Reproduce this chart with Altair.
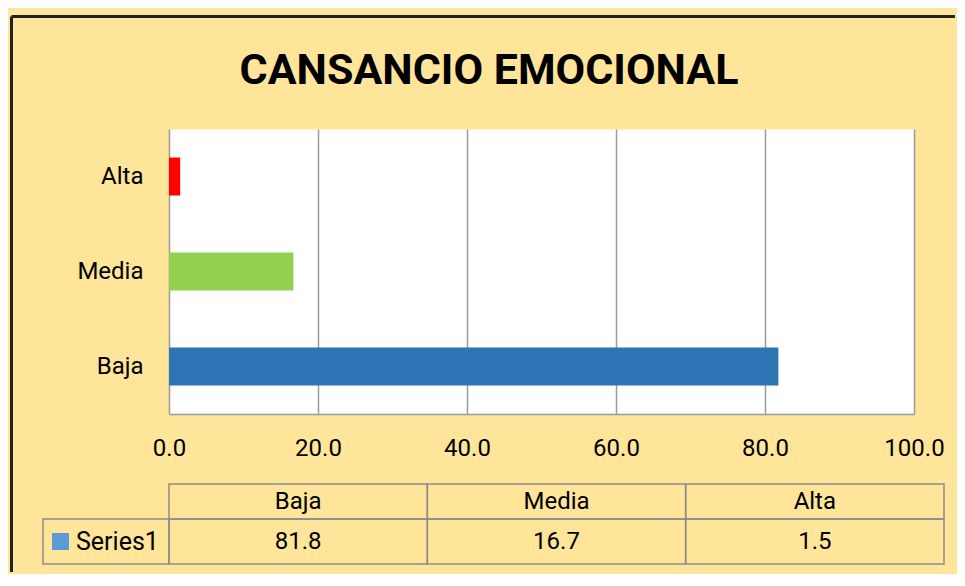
import altair as alt
import pandas as pd

# ---- data ----
categories = ["Baja", "Media", "Alta"]
values = [81.8, 16.7, 1.5]
bar_colors = ["#2E75B6", "#92D050", "#FF0000"]
series_name = "Series1"
x_ticks = [0, 20, 40, 60, 80, 100]
title_text = "CANSANCIO EMOCIONAL"

FONT = "Roboto"
GRID = "#9A9A9A"
CELL = "#8C8C8C"
BG = "#FFE599"

df = pd.DataFrame({
    "cat": categories,
    "val": values,
    "label": [f"{v:.1f}" for v in values],
})

# ---------------- top: bar chart ----------------
bars = alt.Chart(df).mark_bar().encode(
    x=alt.X("val:Q",
            scale=alt.Scale(domain=[0, 100], nice=False, zero=True),
            axis=alt.Axis(values=x_ticks, format=".1f", title=None,
                          grid=True, gridColor=GRID, gridWidth=1.5,
                          domain=True, domainColor=GRID, domainWidth=1.5,
                          ticks=False, labelPadding=34, labelBaseline="middle",
                          labelFontSize=24, labelFont=FONT, labelColor="black",
                          labelFlush=False)),
    y=alt.Y("cat:N", sort=["Alta", "Media", "Baja"],
            scale=alt.Scale(paddingInner=0.6, paddingOuter=0.3),
            axis=alt.Axis(title=None, domain=False, ticks=False, labelPadding=26,
                          labelFontSize=24, labelFont=FONT, labelColor="black")),
    color=alt.Color("cat:N", scale=alt.Scale(domain=categories, range=bar_colors),
                    legend=None),
)

title_mark = alt.Chart(pd.DataFrame({"t": [title_text]})).mark_text(
    font=FONT, fontSize=43, fontWeight="bold", color="black",
    align="center", baseline="alphabetic",
).encode(text="t:N", x=alt.value(320), y=alt.value(-45))

one = pd.DataFrame({"a": [0]})
border_v = alt.Chart(one).mark_rule(color="#222222", strokeWidth=3).encode(
    x=alt.value(-157.5), y=alt.value(-112.5), y2=alt.value(443))
border_h = alt.Chart(one).mark_rule(color="#222222", strokeWidth=3).encode(
    x=alt.value(-157.5), x2=alt.value(786), y=alt.value(-112.5))

top = alt.layer(bars, title_mark, border_v, border_h).properties(
    width=745, height=285,
    view=alt.ViewBackground(fill="white", stroke="transparent"),
)

# ---------------- bottom: data table ----------------
xcol = alt.X("cat:N", sort=categories,
             scale=alt.Scale(paddingInner=0, paddingOuter=0), axis=None)

def yrow(rng):
    return alt.Y("row:N", scale=alt.Scale(range=rng, paddingInner=0, paddingOuter=0),
                 axis=None)

hdr = alt.Chart(df).transform_calculate(row="'header'")
val = alt.Chart(df).transform_calculate(row="'value'")

hdr_cells = hdr.mark_rect(fill="transparent", stroke=CELL, strokeWidth=1.5).encode(
    x=xcol, y=yrow([0, 35]))
hdr_text = hdr.mark_text(font=FONT, fontSize=24, color="black", baseline="middle").encode(
    x=xcol, y=yrow([0, 35]), text="cat:N")
val_cells = val.mark_rect(fill="transparent", stroke=CELL, strokeWidth=1.5).encode(
    x=xcol, y=yrow([35, 80]))
val_text = val.mark_text(font=FONT, fontSize=24, color="black", baseline="middle").encode(
    x=xcol, y=yrow([35, 80]), text="label:N")

leg = alt.Chart(pd.DataFrame({"name": [series_name], "row": ["value"]}))
leg_cell = leg.mark_rect(fill="transparent", stroke=CELL, strokeWidth=1.5).encode(
    x=alt.value(-126), x2=alt.value(0), y=yrow([35, 80]))
leg_sym = leg.mark_square(size=289, color="#5B9BD5", opacity=1).encode(
    x=alt.value(-108.5), y=yrow([35, 80]))
leg_text = leg.mark_text(font=FONT, fontSize=25, color="black", align="left",
                         baseline="middle").encode(
    x=alt.value(-93), y=yrow([35, 80]), text="name:N")

table = alt.layer(hdr_cells, hdr_text, val_cells, val_text,
                  leg_cell, leg_sym, leg_text).resolve_scale(y="independent").properties(
    width=775, height=80,
    view=alt.ViewBackground(fill="transparent", stroke="transparent"),
)

chart = alt.vconcat(top, table, spacing=70, bounds="flush").properties(
    padding={"left": 1, "top": 6, "right": 0, "bottom": 0},
).configure(background=BG, font=FONT)

chart.save("out.html", embed_options={"renderer": "svg", "actions": False})
